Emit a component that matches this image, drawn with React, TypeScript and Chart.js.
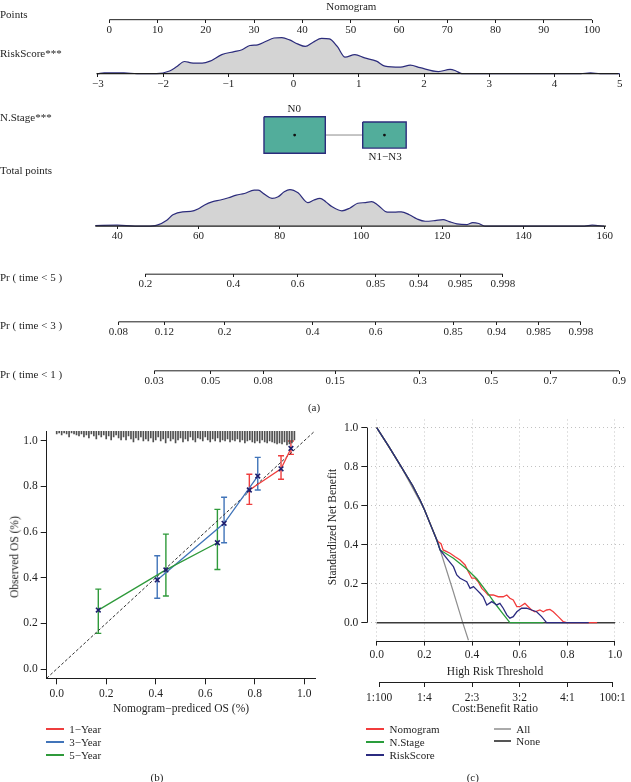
import React, { useEffect, useRef } from 'react';
import { Chart, registerables } from 'chart.js';

Chart.register(...registerables);

const FONT = "'Liberation Serif', 'Times New Roman', Times, serif";
const TXT = '#1e1e1e';
const AXIS = '#1e1e1e';
const NAVY = '#2c2c7c';
const MINUS = '\u2212';
Chart.defaults.font.family = FONT;

// ================= (a) Nomogram data =================
const pointsTicks = [0, 10, 20, 30, 40, 50, 60, 70, 80, 90, 100];
const pointsLabels = ['0', '10', '20', '30', '40', '50', '60', '70', '80', '90', '100'];
const riskTicks = [-3, -2, -1, 0, 1, 2, 3, 4, 5];
const riskLabels = ['\u22123', '\u22122', '\u22121', '0', '1', '2', '3', '4', '5'];
const riskDensX = [-3.0, -2.9, -2.6, -2.4, -2.1, -1.9, -1.8, -1.67, -1.57, -1.4, -1.28, -1.1, -0.91, -0.79, -0.67, -0.55, -0.43, -0.3, -0.18, -0.06, 0.06, 0.18, 0.3, 0.43, 0.55, 0.67, 0.79, 0.94, 1.09, 1.27, 1.4, 1.64, 1.79, 1.94, 2.22, 2.4, 2.49, 2.58, 4.4, 4.55, 4.7, 5.0];
const riskDensY = [0, 0.018, 0.018, 0, 0, 0.073, 0.18, 0.336, 0.3, 0.29, 0.345, 0.527, 0.61, 0.664, 0.78, 0.8, 0.89, 0.99, 1.0, 0.936, 0.827, 0.755, 0.873, 0.98, 0.964, 0.755, 0.455, 0.527, 0.436, 0.345, 0.209, 0.18, 0.236, 0.164, 0.055, 0.118, 0.073, 0, 0, 0.018, 0, 0];
const stageLabels = ['N0', 'N1\u2212N3'];
const stagePoints = [38.4, 57.0];
const stageHalfWidth = [6.35, 4.5];
const totalTicks = [40, 60, 80, 100, 120, 140, 160];
const totalLabels = ['40', '60', '80', '100', '120', '140', '160'];
const totDensX = [34.6, 40, 44.4, 47.3, 49.8, 52.2, 53.7, 56.1, 58.1, 60.0, 61.5, 63.5, 65.4, 67.4, 69.3, 71.3, 73.7, 74.7, 76.2, 78.1, 79.6, 81.1, 82.5, 84.5, 86.9, 88.4, 89.9, 91.3, 92.8, 95.3, 97.2, 99.2, 101.1, 102.6, 104.1, 106.5, 108.5, 109.9, 111.9, 113.8, 115.8, 118.2, 120.2, 121.7, 123.6, 126.1, 127.5, 129.0, 130.5, 155, 156.9, 159.8];
const totDensY = [0.018, 0.027, 0, 0, 0.027, 0.164, 0.318, 0.4, 0.409, 0.482, 0.591, 0.682, 0.727, 0.791, 0.864, 0.909, 1.0, 1.0, 0.891, 0.773, 0.818, 0.955, 1.018, 0.927, 0.655, 0.727, 0.773, 0.682, 0.545, 0.427, 0.5, 0.636, 0.655, 0.682, 0.591, 0.391, 0.391, 0.4, 0.318, 0.2, 0.136, 0.155, 0.182, 0.127, 0.064, 0.045, 0.1, 0.073, 0, 0, 0.027, 0];
const pr5Labels = ['0.2', '0.4', '0.6', '0.85', '0.94', '0.985', '0.998'];
const pr5At = [46.9, 68.6, 84.4, 103.6, 114.2, 124.4, 134.9];
const pr3Labels = ['0.08', '0.12', '0.2', '0.4', '0.6', '0.85', '0.94', '0.985', '0.998'];
const pr3At = [40.3, 51.6, 66.4, 88.1, 103.6, 122.7, 133.4, 143.7, 154.1];
const pr1Labels = ['0.03', '0.05', '0.08', '0.15', '0.3', '0.5', '0.7', '0.9'];
const pr1At = [49.1, 63.0, 75.9, 93.6, 114.5, 132.1, 146.6, 163.5];

// ================= (b) Calibration data =================
const calTicks = [0, 0.2, 0.4, 0.6, 0.8, 1.0];
const calLabels = ['0.0', '0.2', '0.4', '0.6', '0.8', '1.0'];
const yr1Pred = [0.778, 0.906, 0.946];
const yr1Obs = [0.784, 0.877, 0.966];
const yr1Lo = [0.721, 0.831, 0.94];
const yr1Hi = [0.853, 0.934, 0.999];
const yr3Pred = [0.406, 0.676, 0.812];
const yr3Obs = [0.39, 0.638, 0.845];
const yr3Lo = [0.31, 0.553, 0.784];
const yr3Hi = [0.496, 0.752, 0.927];
const yr5Pred = [0.168, 0.441, 0.649];
const yr5Obs = [0.258, 0.434, 0.553];
const yr5Lo = [0.156, 0.32, 0.436];
const yr5Hi = [0.35, 0.591, 0.699];
const rugX = [
  0.00, 0.01, 0.02, 0.03, 0.04, 0.05, 0.06, 0.07, 0.08, 0.09, 0.10, 0.11, 0.12, 0.13, 0.14, 0.15, 0.16,
  0.17, 0.18, 0.19, 0.20, 0.21, 0.22, 0.23, 0.24, 0.25, 0.26, 0.27, 0.28, 0.29, 0.30, 0.31, 0.32, 0.33,
  0.34, 0.35, 0.36, 0.37, 0.38, 0.39, 0.40, 0.41, 0.42, 0.43, 0.44, 0.45, 0.46, 0.47, 0.48, 0.49, 0.50,
  0.51, 0.52, 0.53, 0.54, 0.55, 0.56, 0.57, 0.58, 0.59, 0.60, 0.61, 0.62, 0.63, 0.64, 0.65, 0.66, 0.67,
  0.68, 0.69, 0.70, 0.71, 0.72, 0.73, 0.74, 0.75, 0.76, 0.77, 0.78, 0.79, 0.80, 0.81, 0.82, 0.83, 0.84,
  0.85, 0.86, 0.87, 0.88, 0.89, 0.90, 0.91, 0.92, 0.93, 0.94, 0.95, 0.96];
const rugCount = [
  3, 2, 4, 2, 3, 6, 2, 3, 4, 5, 3, 6, 4, 7, 3, 5, 8,
  4, 6, 4, 8, 5, 9, 6, 4, 7, 9, 6, 9, 5, 8, 11, 7, 9,
  6, 10, 8, 10, 7, 11, 9, 6, 10, 8, 12, 7, 10, 8, 12, 9, 7,
  11, 8, 10, 6, 9, 11, 7, 8, 10, 6, 9, 11, 8, 10, 7, 11, 9,
  10, 8, 11, 9, 10, 8, 11, 9, 12, 10, 9, 11, 12, 10, 12, 9, 11,
  12, 10, 11, 12, 13, 12, 13, 11, 14, 13, 12, 9];

// ================= (c) Decision curve data =================
const dcaTicks = [0, 0.2, 0.4, 0.6, 0.8, 1.0];
const dcaLabels = ['0.0', '0.2', '0.4', '0.6', '0.8', '1.0'];
const costTicks = [0.01, 0.2, 0.4, 0.6, 0.8, 0.99];
const costLabels = ['1:100', '1:4', '2:3', '3:2', '4:1', '100:1'];
const nomoX = [0, 0.05, 0.1, 0.15, 0.182, 0.2, 0.23, 0.252, 0.2585, 0.27, 0.279, 0.294, 0.308, 0.329, 0.35, 0.371, 0.384, 0.399, 0.413, 0.426, 0.441, 0.455, 0.468, 0.489, 0.51, 0.531, 0.546, 0.559, 0.573, 0.588, 0.601, 0.622, 0.636, 0.65, 0.664, 0.685, 0.699, 0.713, 0.727, 0.741, 0.762, 0.783, 0.797, 0.925];
const nomoY = [1, 0.905, 0.805, 0.705, 0.629, 0.58, 0.49, 0.424, 0.415, 0.405, 0.373, 0.364, 0.356, 0.338, 0.321, 0.296, 0.262, 0.228, 0.228, 0.21, 0.176, 0.159, 0.142, 0.142, 0.133, 0.133, 0.142, 0.125, 0.116, 0.082, 0.082, 0.099, 0.082, 0.065, 0.056, 0.065, 0.056, 0.065, 0.068, 0.056, 0.031, 0.005, 0, 0];
const stageX = [0, 0.05, 0.1, 0.15, 0.182, 0.2, 0.23, 0.252, 0.266, 0.322, 0.378, 0.42, 0.462, 0.503, 0.53, 0.559, 0.7];
const stageY = [1, 0.905, 0.805, 0.705, 0.629, 0.58, 0.49, 0.424, 0.373, 0.33, 0.275, 0.225, 0.158, 0.088, 0.045, 0, 0];
const riskX = [0, 0.05, 0.1, 0.15, 0.182, 0.2, 0.23, 0.252, 0.266, 0.294, 0.322, 0.336, 0.35, 0.364, 0.378, 0.392, 0.406, 0.42, 0.434, 0.447, 0.462, 0.483, 0.504, 0.517, 0.531, 0.546, 0.559, 0.573, 0.588, 0.608, 0.629, 0.65, 0.671, 0.692, 0.713, 0.89];
const riskY = [1, 0.905, 0.805, 0.705, 0.629, 0.58, 0.49, 0.424, 0.373, 0.33, 0.287, 0.245, 0.228, 0.219, 0.21, 0.176, 0.185, 0.168, 0.151, 0.133, 0.091, 0.108, 0.091, 0.099, 0.074, 0.04, 0.023, 0.031, 0.056, 0.074, 0.074, 0.065, 0.056, 0.031, 0, 0];
const allX = [0, 0.1, 0.2, 0.25, 0.273, 0.32, 0.361, 0.385];
const allY = [1, 0.805, 0.58, 0.435, 0.347, 0.165, 0, -0.09];
const noneX = [0, 1];
const noneY = [0, 0];

// ================= layout constants (pixels) =================
const W = 631;
const H = 782;
const H_A = 400;
const ROW_POINTS = 16;
const ROW_RISK = 71;
const ROW_STAGE = 133.7;
const ROW_TOTAL = 226.7;
const ROW_PR5 = 275.7;
const ROW_PR3 = 324.3;
const ROW_PR1 = 374.3;
const DENS_PX = 36.7;
const STAGE_BOX_PX = [37.3, 26.7];
const RISK_LINE = [-3.02, 4.98];
const TOT_LINE = [34.6, 160.3];

function spanRange(v0: number, p0: number, v1: number, p1: number) {
  const s = (p1 - p0) / (v1 - v0);
  return { min: v0 - p0 / s, max: v0 + (W - p0) / s };
}
const PTS_RANGE = spanRange(0, 106.6, 100, 595.6);
const RISK_RANGE = spanRange(-3, 95, 5, 623.7);
const TOT_RANGE = spanRange(40, 114.7, 160, 608.5);

const tickFont = { family: FONT, size: 11 };

const pts = (xs: number[], ys: number[]) => xs.map((x, i) => ({ x, y: ys[i] }));
const stackOrder = (ds: any[]) => ds.map((d, i) => ({ ...d, order: ds.length - i }));

function nomoAxis(range: { min: number; max: number }, ticksAt: number[], labels: string[], row: number) {
  return {
    type: 'linear',
    axis: 'x',
    position: { yRow: row },
    min: range.min,
    max: range.max,
    afterBuildTicks: (s: any) => {
      s.ticks = ticksAt.map((v) => ({ value: v }));
    },
    ticks: {
      autoSkip: false, maxRotation: 0, minRotation: 0, padding: 0.5, color: TXT, font: tickFont,
      callback: (_v: any, i: number) => labels[i],
    },
    grid: { display: true, drawOnChartArea: false, drawTicks: true, tickLength: 3, tickColor: AXIS, tickWidth: 1 },
    border: { display: false },
  };
}

function densScale(row: number) {
  const max = row / DENS_PX;
  return { type: 'linear', axis: 'y', display: false, min: max - H_A / DENS_PX, max };
}

function ln(xAxisID: string, yAxisID: string, data: any[], extra: any) {
  return { type: 'line', xAxisID, yAxisID, data, pointRadius: 0, borderWidth: 1.2, fill: false, tension: 0, ...extra };
}

function configA(): any {
  const boxes = stagePoints.map((c, i) => {
    const hw = stageHalfWidth[i];
    const hh = STAGE_BOX_PX[i] / 2;
    return ln('xPts', 'yRow', [
      { x: c - hw, y: ROW_STAGE - hh }, { x: c + hw, y: ROW_STAGE - hh },
      { x: c + hw, y: ROW_STAGE + hh }, { x: c - hw, y: ROW_STAGE + hh }, { x: c - hw, y: ROW_STAGE - hh },
    ], { borderColor: NAVY, borderWidth: 1.4, backgroundColor: '#52ad9b', fill: 'shape' });
  });
  const datasets = stackOrder([
    ln('xRisk', 'yRisk', pts(riskDensX, riskDensY), { borderColor: NAVY, backgroundColor: '#d4d4d4', fill: 'origin', cubicInterpolationMode: 'monotone' }),
    ln('xRisk', 'yRisk', [{ x: RISK_LINE[0], y: 0 }, { x: RISK_LINE[1], y: 0 }], { borderColor: AXIS, borderWidth: 1.3 }),
    ln('xPts', 'yRow', [{ x: pointsTicks[0], y: ROW_POINTS }, { x: pointsTicks[pointsTicks.length - 1], y: ROW_POINTS }], { borderColor: AXIS, borderWidth: 1 }),
    ln('xPts', 'yRow', [{ x: stagePoints[0] + stageHalfWidth[0], y: ROW_STAGE }, { x: stagePoints[1] - stageHalfWidth[1], y: ROW_STAGE }], { borderColor: '#8c8c8c', borderWidth: 1 }),
    ...boxes,
    { type: 'line', xAxisID: 'xPts', yAxisID: 'yRow', data: stagePoints.map((x) => ({ x, y: ROW_STAGE })), showLine: false, pointRadius: 1.4, pointBackgroundColor: '#111', pointBorderWidth: 0 },
    ln('xTot', 'yTot', pts(totDensX, totDensY), { borderColor: NAVY, backgroundColor: '#d4d4d4', fill: 'origin', cubicInterpolationMode: 'monotone' }),
    ln('xTot', 'yTot', [{ x: TOT_LINE[0], y: 0 }, { x: TOT_LINE[1], y: 0 }], { borderColor: AXIS, borderWidth: 1.3 }),
    ln('xPr5', 'yRow', [{ x: pr5At[0], y: ROW_PR5 }, { x: pr5At[pr5At.length - 1], y: ROW_PR5 }], { borderColor: AXIS, borderWidth: 1 }),
    ln('xPr3', 'yRow', [{ x: pr3At[0], y: ROW_PR3 }, { x: pr3At[pr3At.length - 1], y: ROW_PR3 }], { borderColor: AXIS, borderWidth: 1 }),
    ln('xPr1', 'yRow', [{ x: pr1At[0], y: ROW_PR1 }, { x: pr1At[pr1At.length - 1], y: ROW_PR1 }], { borderColor: AXIS, borderWidth: 1 }),
  ]);
  return {
    type: 'line',
    data: { datasets },
    options: {
      responsive: false, animation: false, events: [],
      layout: { padding: 0 },
      plugins: { legend: { display: false }, tooltip: { enabled: false } },
      scales: {
        yRow: { type: 'linear', axis: 'y', display: false, min: 0, max: H_A, reverse: true },
        yRisk: densScale(ROW_RISK),
        yTot: densScale(ROW_TOTAL),
        xPts: nomoAxis(PTS_RANGE, pointsTicks, pointsLabels, ROW_POINTS),
        xRisk: nomoAxis(RISK_RANGE, riskTicks, riskLabels, ROW_RISK),
        xTot: nomoAxis(TOT_RANGE, totalTicks, totalLabels, ROW_TOTAL),
        xPr5: nomoAxis(TOT_RANGE, pr5At, pr5Labels, ROW_PR5),
        xPr3: nomoAxis(TOT_RANGE, pr3At, pr3Labels, ROW_PR3),
        xPr1: nomoAxis(TOT_RANGE, pr1At, pr1Labels, ROW_PR1),
      },
    },
  };
}

// ---------- (b) ----------
const B_AREA = { left: 46.7, top: 431, right: 315, bottom: 678.3 };
const B_X = { min: -0.0404, max: 1.0432 };
const B_Y = { min: -0.0407, max: 1.0425 };
const RUG_UNIT = 1 / 228.3;
const RED = '#ee3e3e';
const BLUE = '#4174b9';
const GREEN = '#2f9a3b';
const MARK = '#1f1f6e';

const calSeries = [
  { color: RED, pred: yr1Pred, obs: yr1Obs, lo: yr1Lo, hi: yr1Hi },
  { color: BLUE, pred: yr3Pred, obs: yr3Obs, lo: yr3Lo, hi: yr3Hi },
  { color: GREEN, pred: yr5Pred, obs: yr5Obs, lo: yr5Lo, hi: yr5Hi },
];

const errorBarPlugin = {
  id: 'errorBars',
  beforeDatasetsDraw(chart: any) {
    const { ctx } = chart;
    const x = chart.scales.x;
    const y = chart.scales.y;
    calSeries.forEach((s) => {
      ctx.save();
      ctx.strokeStyle = s.color;
      ctx.lineWidth = 1.4;
      s.pred.forEach((p, i) => {
        const px = x.getPixelForValue(p);
        const lo = y.getPixelForValue(s.lo[i]);
        const hi = y.getPixelForValue(s.hi[i]);
        ctx.beginPath();
        ctx.moveTo(px, lo); ctx.lineTo(px, hi);
        ctx.moveTo(px - 3, lo); ctx.lineTo(px + 3, lo);
        ctx.moveTo(px - 3, hi); ctx.lineTo(px + 3, hi);
        ctx.stroke();
      });
      ctx.restore();
    });
  },
};

function linAxis(range: { min: number; max: number }, ticksAt: number[], labels: string[], extra: any) {
  return {
    type: 'linear', min: range.min, max: range.max, offset: false,
    afterBuildTicks: (s: any) => { s.ticks = ticksAt.map((v) => ({ value: v })); },
    ticks: { autoSkip: false, maxRotation: 0, minRotation: 0, padding: 3, color: TXT, font: { family: FONT, size: 11.5 }, callback: (_v: any, i: number) => labels[i] },
    ...extra,
  };
}

function configB(): any {
  const top = B_Y.max;
  const datasets = stackOrder([
    { type: 'bar', xAxisID: 'x', yAxisID: 'y', data: rugX.map((x, i) => ({ x, y: [top - rugCount[i] * RUG_UNIT, top] })), backgroundColor: '#505050', borderWidth: 0, barThickness: 1, grouped: false },
    ln('x', 'y', [{ x: B_X.min, y: B_X.min }, { x: B_X.max, y: B_X.max }], { borderColor: '#333', borderWidth: 1, borderDash: [3, 2] }),
    ...calSeries.map((s) => ln('x', 'y', pts(s.pred, s.obs), { borderColor: s.color, borderWidth: 1.3 })),
    ...calSeries.map((s) => ({ type: 'line', xAxisID: 'x', yAxisID: 'y', data: pts(s.pred, s.obs), showLine: false, pointStyle: 'crossRot', pointRadius: 3.3, pointBorderWidth: 1.6, pointBorderColor: MARK, pointBackgroundColor: MARK })),
  ]);
  const gridB = { display: true, drawOnChartArea: false, offset: false, tickLength: 6, tickColor: AXIS, tickWidth: 1 };
  return {
    type: 'line',
    data: { datasets },
    options: {
      responsive: false, animation: false, events: [],
      plugins: { legend: { display: false }, tooltip: { enabled: false } },
      layout: { padding: { left: 0, top: B_AREA.top, right: W - B_AREA.right, bottom: H - B_AREA.bottom - 30 } },
      scales: {
        x: linAxis(B_X, calTicks, calLabels, { afterFit: (s: any) => { s.height = 30; }, grid: gridB, border: { display: true, color: AXIS, width: 1 } }),
        y: linAxis(B_Y, calTicks, calLabels, { afterFit: (s: any) => { s.width = B_AREA.left; }, grid: gridB, border: { display: true, color: AXIS, width: 1 } }),
      },
    },
    plugins: [errorBarPlugin],
  };
}

// ---------- (c) ----------
const C_AREA = { left: 367.3, top: 419.5, right: 624.5, bottom: 640.6 };
const C_X = { min: -0.0394, max: 1.0399 };
const C_Y = { min: -0.092, max: 1.042 };
const COST_AXIS_Y = -0.3026;
const C_RED = '#f23c3c';
const C_GREEN = '#2a9d3c';
const C_NAVY = '#2b2b80';

const rAxisPlugin = {
  id: 'rAxes',
  afterDraw(chart: any) {
    const { ctx, chartArea } = chart;
    const { x, y, x2 } = chart.scales;
    ctx.save();
    ctx.strokeStyle = AXIS;
    ctx.lineWidth = 1;
    ctx.beginPath();
    const yl = Math.round(chartArea.left) + 0.5;
    ctx.moveTo(yl, y.getPixelForValue(dcaTicks[0]));
    ctx.lineTo(yl, y.getPixelForValue(dcaTicks[dcaTicks.length - 1]));
    const xb = Math.round(chartArea.bottom) + 0.5;
    ctx.moveTo(x.getPixelForValue(dcaTicks[0]), xb);
    ctx.lineTo(x.getPixelForValue(dcaTicks[dcaTicks.length - 1]), xb);
    const x2b = Math.round(y.getPixelForValue(COST_AXIS_Y)) + 0.5;
    ctx.moveTo(x2.getPixelForValue(costTicks[0]), x2b);
    ctx.lineTo(x2.getPixelForValue(costTicks[costTicks.length - 1]), x2b);
    ctx.stroke();
    ctx.restore();
  },
};

function configC(): any {
  const datasets = stackOrder([
    ln('x', 'y', pts(allX, allY), { borderColor: '#8e8e8e', borderWidth: 1.2, clip: false }),
    ln('x', 'y', pts(noneX, noneY), { borderColor: '#3a3a3a', borderWidth: 1.5 }),
    ln('x', 'y', pts(nomoX, nomoY), { borderColor: C_RED, borderWidth: 1.3 }),
    ln('x', 'y', pts(stageX, stageY), { borderColor: C_GREEN, borderWidth: 1.3 }),
    ln('x', 'y', pts(riskX, riskY), { borderColor: C_NAVY, borderWidth: 1.3 }),
  ]);
  const gridDot = { display: true, drawOnChartArea: true, color: '#c2c2c2', lineWidth: 1, borderDash: [1, 3], tickLength: 6, tickColor: AXIS, tickWidth: 1, tickBorderDash: [], offset: false };
  return {
    type: 'line',
    data: { datasets },
    options: {
      responsive: false, animation: false, events: [],
      plugins: { legend: { display: false }, tooltip: { enabled: false } },
      layout: { padding: { left: C_AREA.left - 40, top: C_AREA.top, right: W - C_AREA.right, bottom: H - C_AREA.bottom - 20 } },
      scales: {
        x: linAxis(C_X, dcaTicks, dcaLabels, { position: 'bottom', afterFit: (s: any) => { s.height = 20; }, grid: { ...gridDot, tickLength: 5 }, border: { display: false, dash: [1, 3] }, ticks: { autoSkip: false, maxRotation: 0, minRotation: 0, padding: 2, color: TXT, font: { family: FONT, size: 11.5 }, callback: (_v: any, i: number) => dcaLabels[i] } }),
        y: linAxis(C_Y, dcaTicks, dcaLabels, { afterFit: (s: any) => { s.width = 40; }, grid: gridDot, border: { display: false, dash: [1, 3] } }),
        x2: linAxis(C_X, costTicks, costLabels, { axis: 'x', position: { y: COST_AXIS_Y }, grid: { display: true, drawOnChartArea: false, tickLength: 5, tickColor: AXIS, tickWidth: 1 }, border: { display: false }, ticks: { autoSkip: false, maxRotation: 0, minRotation: 0, padding: 4, color: TXT, font: { family: FONT, size: 11.5 }, callback: (_v: any, i: number) => costLabels[i] } }),
      },
    },
    plugins: [rAxisPlugin],
  };
}

// ================= HTML text =================
type LabelProps = { x: number; y: number; text: string; align?: 'left' | 'center' | 'right'; rotate?: boolean; size?: number };
function Label({ x, y, text, align = 'left', rotate = false, size = 11 }: LabelProps) {
  const tx = align === 'left' ? '0' : align === 'center' ? '-50%' : '-100%';
  return (
    <div style={{ position: 'absolute', left: x, top: y, transform: `translate(${tx},-50%)${rotate ? ' rotate(-90deg)' : ''}`, whiteSpace: 'nowrap', fontSize: size, lineHeight: 1, color: TXT, fontFamily: FONT }}>
      {text}
    </div>
  );
}
function LegendLine({ x, y, w, color }: { x: number; y: number; w: number; color: string }) {
  return <div style={{ position: 'absolute', left: Math.round(x), top: Math.round(y) - 1, width: w, height: 2, background: color }} />;
}

export default function App() {
  const aRef = useRef<HTMLCanvasElement>(null);
  const bRef = useRef<HTMLCanvasElement>(null);
  const cRef = useRef<HTMLCanvasElement>(null);
  useEffect(() => {
    const charts = [
      new Chart(aRef.current as HTMLCanvasElement, configA()),
      new Chart(bRef.current as HTMLCanvasElement, configB()),
      new Chart(cRef.current as HTMLCanvasElement, configC()),
    ];
    return () => charts.forEach((c) => c.destroy());
  }, []);
  const cv: React.CSSProperties = { position: 'absolute', left: 0, top: 0 };
  return (
    <div style={{ position: 'absolute', left: 0, top: 0, width: W, height: H, background: '#fff', overflow: 'hidden' }}>
      <canvas ref={aRef} width={W} height={H_A} style={cv} />
      <canvas ref={bRef} width={W} height={H} style={cv} />
      <canvas ref={cRef} width={W} height={H} style={cv} />
      <Label x={351.3} y={5.5} text="Nomogram" align="center" />
      <Label x={0} y={14} text="Points" />
      <Label x={0} y={53} text="RiskScore***" />
      <Label x={0} y={117} text="N.Stage***" />
      <Label x={0} y={170} text="Total points" />
      <Label x={0} y={276.7} text="Pr ( time < 5 )" />
      <Label x={0} y={325} text="Pr ( time < 3 )" />
      <Label x={0} y={374} text="Pr ( time < 1 )" />
      <Label x={294.2} y={108} text={stageLabels[0]} align="center" />
      <Label x={385.1} y={155.7} text={stageLabels[1]} align="center" />
      <Label x={314} y={407} text="(a)" align="center" />

      <Label x={15} y={556.7} text="Observed OS (%)" align="center" rotate size={11.5} />
      <Label x={181} y={709.3} text={`Nomogram${MINUS}prediced OS (%)`} align="center" size={11.5} />
      <LegendLine x={46.3} y={729.3} w={18} color={RED} />
      <LegendLine x={46.3} y={742} w={18} color={BLUE} />
      <LegendLine x={46.3} y={755.3} w={18} color={GREEN} />
      <Label x={69.2} y={729.3} text={`1${MINUS}Year`} />
      <Label x={69.2} y={742} text={`3${MINUS}Year`} />
      <Label x={69.2} y={755.3} text={`5${MINUS}Year`} />
      <Label x={157} y={776.7} text="(b)" align="center" />

      <Label x={333.3} y={526.7} text="Standardized Net Benefit" align="center" rotate size={11.5} />
      <Label x={495} y={671.7} text="High Risk Threshold" align="center" size={11.5} />
      <Label x={495} y={709.3} text="Cost:Benefit Ratio" align="center" size={11.5} />
      <LegendLine x={366.2} y={729.3} w={18} color={C_RED} />
      <LegendLine x={366.2} y={742} w={18} color={C_GREEN} />
      <LegendLine x={366.2} y={755.3} w={18} color={C_NAVY} />
      <Label x={389.5} y={729.3} text="Nomogram" />
      <Label x={389.5} y={742} text="N.Stage" />
      <Label x={389.5} y={755.3} text="RiskScore" />
      <LegendLine x={494.2} y={729.3} w={17} color="#aaaaaa" />
      <LegendLine x={494.2} y={740.7} w={17} color="#555555" />
      <Label x={516.3} y={729.3} text="All" />
      <Label x={516.3} y={740.7} text="None" />
      <Label x={472.8} y={776.7} text="(c)" align="center" />
    </div>
  );
}
